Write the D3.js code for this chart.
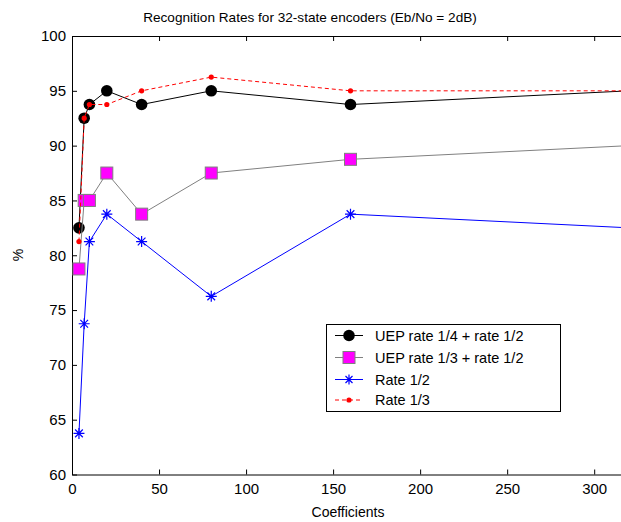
<!DOCTYPE html>
<html>
  <head>
    <meta charset="UTF-8">
    <title>Recognition Rates</title>
    <script src="https://d3js.org/d3.v7.min.js"></script>
    <style>
      body { margin: 0; background: #fff; }
      text { font-family: "Liberation Sans", Arial, sans-serif; }
    </style>
  </head>
  <body>
    <svg width="621" height="522"></svg>
    <script>
      // Data
      var coeffs = [4, 7, 10, 20, 40, 80, 160, 320];
      var uep14 = [82.5, 92.5, 93.75, 95, 93.75, 95, 93.75, 95];
      var uep13 = [78.75, 85, 85, 87.5, 83.75, 87.5, 88.75, 90];
      var rate12 = [63.75, 73.75, 81.25, 83.75, 81.25, 76.25, 83.75, 82.5];
      var rate13 = [81.25, 92.5, 93.75, 93.75, 95, 96.25, 95, 95];
      var xTicks = [0, 50, 100, 150, 200, 250, 300];
      var yTicks = [60, 65, 70, 75, 80, 85, 90, 95, 100];
      var seriesNames = ["UEP rate 1/4 + rate 1/2", "UEP rate 1/3 + rate 1/2", "Rate 1/2", "Rate 1/3"];

      var svg = d3.select("svg");
      svg.append("rect").attr("width", 621).attr("height", 522).attr("fill", "#fff");

      // the figure is cropped on the right, so the last point sits just past the edge
      var plotL = 72, plotT = 36, plotB = 474.5, plotR = 629;

      var x = d3.scaleLinear().domain([0, 320]).range([plotL, plotR]);
      var y = d3.scaleLinear().domain([60, 100]).range([plotB, plotT]);

      // Axes (MATLAB style, ticks inside)
      svg.append("g")
          .attr("transform", "translate(0," + plotB + ")")
          .call(d3.axisBottom(x).tickValues(xTicks).tickSizeInner(-5).tickSizeOuter(0).tickPadding(9));
      svg.append("g")
          .attr("transform", "translate(0," + plotT + ")")
          .call(d3.axisTop(x).tickValues(xTicks).tickSizeInner(-5).tickSizeOuter(0).tickFormat(""));
      svg.append("g")
          .attr("transform", "translate(" + plotL + ",0)")
          .call(d3.axisLeft(y).tickValues(yTicks).tickSizeInner(-5).tickSizeOuter(0).tickPadding(6));

      svg.selectAll(".domain").attr("stroke", "#000");
      svg.selectAll(".tick line").attr("stroke", "#000");
      svg.selectAll(".tick text").attr("font-size", 15).attr("fill", "#000")
          .attr("font-family", "Liberation Sans, Arial, sans-serif");

      // Title and labels
      svg.append("text").attr("x", 310).attr("y", 22).attr("text-anchor", "middle")
          .attr("font-size", 13.6).text("Recognition Rates for 32-state encoders (Eb/No = 2dB)");
      svg.append("text").attr("x", 348).attr("y", 517).attr("text-anchor", "middle")
          .attr("font-size", 14).text("Coefficients");
      svg.append("text").attr("transform", "translate(23,255) rotate(-90)").attr("text-anchor", "middle")
          .attr("font-size", 14).text("%");

      var line = d3.line()
          .x(function(d, i) { return x(coeffs[i]); })
          .y(function(d) { return y(d); });

      function star(g, cx, cy, r, color) {
        var a = r * 0.7;
        var p = "M" + (cx - r) + "," + cy + "H" + (cx + r) +
                "M" + cx + "," + (cy - r) + "V" + (cy + r) +
                "M" + (cx - a) + "," + (cy - a) + "L" + (cx + a) + "," + (cy + a) +
                "M" + (cx - a) + "," + (cy + a) + "L" + (cx + a) + "," + (cy - a);
        g.append("path").attr("d", p).attr("stroke", color).attr("stroke-width", 1.2).attr("fill", "none");
      }

      var plot = svg.append("g");

      // UEP rate 1/4 + rate 1/2
      plot.append("path").datum(uep14).attr("d", line).attr("fill", "none")
          .attr("stroke", "#000").attr("stroke-width", 1);
      plot.selectAll(".m1").data(uep14).enter().append("circle")
          .attr("cx", function(d, i) { return x(coeffs[i]); })
          .attr("cy", function(d) { return y(d); })
          .attr("r", 5.8).attr("fill", "#000");

      // UEP rate 1/3 + rate 1/2
      plot.append("path").datum(uep13).attr("d", line).attr("fill", "none")
          .attr("stroke", "#808080").attr("stroke-width", 1);
      plot.selectAll(".m2").data(uep13).enter().append("rect")
          .attr("x", function(d, i) { return x(coeffs[i]) - 6; })
          .attr("y", function(d) { return y(d) - 6; })
          .attr("width", 12).attr("height", 12)
          .attr("fill", "#ff00ff").attr("stroke", "#808080").attr("stroke-width", 1);

      // Rate 1/2
      plot.append("path").datum(rate12).attr("d", line).attr("fill", "none")
          .attr("stroke", "#0000ff").attr("stroke-width", 1);
      rate12.forEach(function(d, i) { star(plot, x(coeffs[i]), y(d), 5.5, "#0000ff"); });

      // Rate 1/3
      plot.append("path").datum(rate13).attr("d", line).attr("fill", "none")
          .attr("stroke", "#ff0000").attr("stroke-width", 1).attr("stroke-dasharray", "4,3");
      plot.selectAll(".m4").data(rate13).enter().append("circle")
          .attr("cx", function(d, i) { return x(coeffs[i]); })
          .attr("cy", function(d) { return y(d); })
          .attr("r", 2.6).attr("fill", "#ff0000");

      // Legend
      var lg = svg.append("g");
      lg.append("rect").attr("x", 326.5).attr("y", 324.5).attr("width", 234).attr("height", 87)
          .attr("fill", "#fff").attr("stroke", "#000").attr("stroke-width", 1);
      var colors = ["#000", "#808080", "#0000ff", "#ff0000"];
      var rowY = [335.5, 357.5, 379.5, 400];
      seriesNames.forEach(function(name, i) {
        var ly = rowY[i];
        var l = lg.append("line").attr("x1", 335).attr("x2", 363).attr("y1", ly).attr("y2", ly)
            .attr("stroke", colors[i]).attr("stroke-width", 1);
        if (i === 3) l.attr("stroke-dasharray", "4,3");
        if (i === 0) lg.append("circle").attr("cx", 349).attr("cy", ly).attr("r", 5.8).attr("fill", "#000");
        if (i === 1) lg.append("rect").attr("x", 343).attr("y", ly - 6).attr("width", 12).attr("height", 12)
            .attr("fill", "#ff00ff").attr("stroke", "#808080");
        if (i === 2) star(lg, 349, ly, 5, "#0000ff");
        if (i === 3) lg.append("circle").attr("cx", 349).attr("cy", ly).attr("r", 2.6).attr("fill", "#ff0000");
        lg.append("text").attr("x", 375).attr("y", ly + 5).attr("font-size", 14.5).text(name);
      });
    </script>
  </body>
</html>
